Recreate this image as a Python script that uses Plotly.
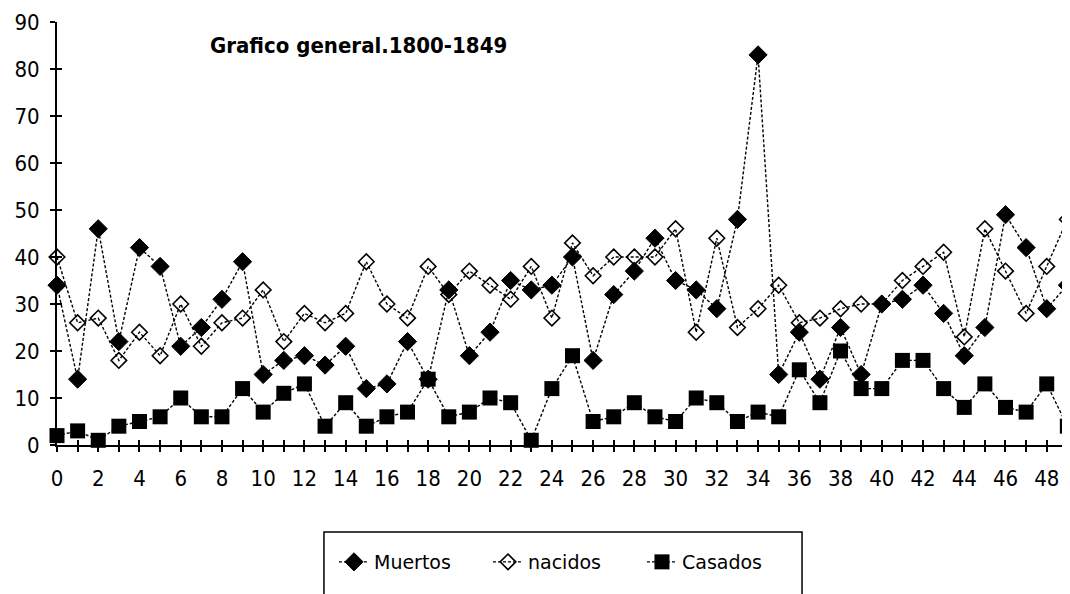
import plotly.graph_objects as go

years = list(range(50))
muertos = [34,14,46,22,42,38,21,25,31,39,15,18,19,17,21,12,13,22,14,33,
           19,24,35,33,34,40,18,32,37,44,35,33,29,48,83,15,24,14,25,15,
           30,31,34,28,19,25,49,42,29,34]
nacidos = [40,26,27,18,24,19,30,21,26,27,33,22,28,26,28,39,30,27,38,32,
           37,34,31,38,27,43,36,40,40,40,46,24,44,25,29,34,26,27,29,30,
           30,35,38,41,23,46,37,28,38,48]
casados = [2,3,1,4,5,6,10,6,6,12,7,11,13,4,9,4,6,7,14,6,
           7,10,9,1,12,19,5,6,9,6,5,10,9,5,7,6,16,9,20,12,
           12,18,18,12,8,13,8,7,13,4]
series_names = ["Muertos", "nacidos", "Casados"]
title_text = "Grafico general.1800-1849"
x_ticks = list(range(0, 49, 2))
y_ticks = list(range(0, 91, 10))

FONT = "DejaVu Sans Condensed, DejaVu Sans"
LEGEND_FONT = "DejaVu Sans"
line_style = dict(color="black", width=1.4, dash="3px,2px")

fig = go.Figure()
fig.add_trace(go.Scatter(
    x=years, y=muertos, name=series_names[0], mode="lines+markers",
    line=line_style, cliponaxis=False,
    marker=dict(symbol="diamond", size=14, color="black",
                line=dict(color="black", width=1))))
fig.add_trace(go.Scatter(
    x=years, y=nacidos, name=series_names[1], mode="lines+markers",
    line=line_style, cliponaxis=False,
    marker=dict(symbol="diamond-open", size=12, color="black",
                line=dict(color="black", width=1.6))))
fig.add_trace(go.Scatter(
    x=years, y=casados, name=series_names[2], mode="lines+markers",
    line=line_style, cliponaxis=False,
    marker=dict(symbol="square", size=15, color="black",
                line=dict(color="black", width=0))))
# invisible trace on overlay axes: draws the inner half of the crossing ticks
fig.add_trace(go.Scatter(x=[years[0]], y=[0], xaxis="x2", yaxis="y2",
                         mode="markers", marker=dict(opacity=0),
                         showlegend=False, hoverinfo="skip"))

xr = [0, 49.08]
yr = [0, 90]
TL = 5
fig.update_layout(
    width=1062, height=586,
    margin=dict(l=49, r=1, t=14, b=149),
    paper_bgcolor="white", plot_bgcolor="white",
    font=dict(family=FONT, size=18, color="black"),
    showlegend=True,
    xaxis=dict(range=xr, tickmode="array", tickvals=x_ticks,
               ticks="outside", ticklen=TL, tickwidth=2, tickcolor="black",
               minor=dict(dtick=1, tick0=0, ticks="outside", ticklen=TL,
                          tickwidth=2, tickcolor="black"),
               showline=True, linecolor="black", linewidth=2,
               showgrid=False, zeroline=False,
               tickfont=dict(family=FONT, size=22), ticklabelstandoff=8),
    yaxis=dict(range=yr, tickmode="array", tickvals=y_ticks,
               ticks="outside", ticklen=TL, tickwidth=2, tickcolor="black",
               showline=True, linecolor="black", linewidth=2,
               showgrid=False, zeroline=False,
               tickfont=dict(family=FONT, size=22), ticklabelstandoff=6),
    xaxis2=dict(range=xr, overlaying="x", anchor="y2", side="bottom",
                tickmode="linear", tick0=0, dtick=1, ticks="inside",
                ticklen=TL, tickwidth=2, tickcolor="black",
                showticklabels=False, showgrid=False, zeroline=False,
                showline=False),
    yaxis2=dict(range=yr, overlaying="y", anchor="x2", side="left",
                tickmode="array", tickvals=y_ticks, ticks="inside",
                ticklen=TL, tickwidth=2, tickcolor="black",
                showticklabels=False, showgrid=False, zeroline=False,
                showline=False),
    legend=dict(orientation="h", x=0.2737, y=-0.2766, xanchor="left",
                yanchor="middle", borderwidth=0,
                bgcolor="rgba(0,0,0,0)",
                font=dict(family=LEGEND_FONT, size=19),
                itemwidth=30, entrywidth=109, entrywidthmode="pixels"),
    shapes=[dict(type="rect", xref="paper", yref="paper",
                 x0=0.2638, x1=0.7362, y0=-0.385, y1=-0.2057,
                 line=dict(color="black", width=1.5), layer="below")],
    annotations=[dict(text="<b>" + title_text + "</b>", xref="paper",
                      yref="paper", x=0.1492, y=0.9456, xanchor="left",
                      yanchor="middle", showarrow=False,
                      font=dict(family=FONT, size=22, color="black"))],
)

fig.write_html("out.html")
